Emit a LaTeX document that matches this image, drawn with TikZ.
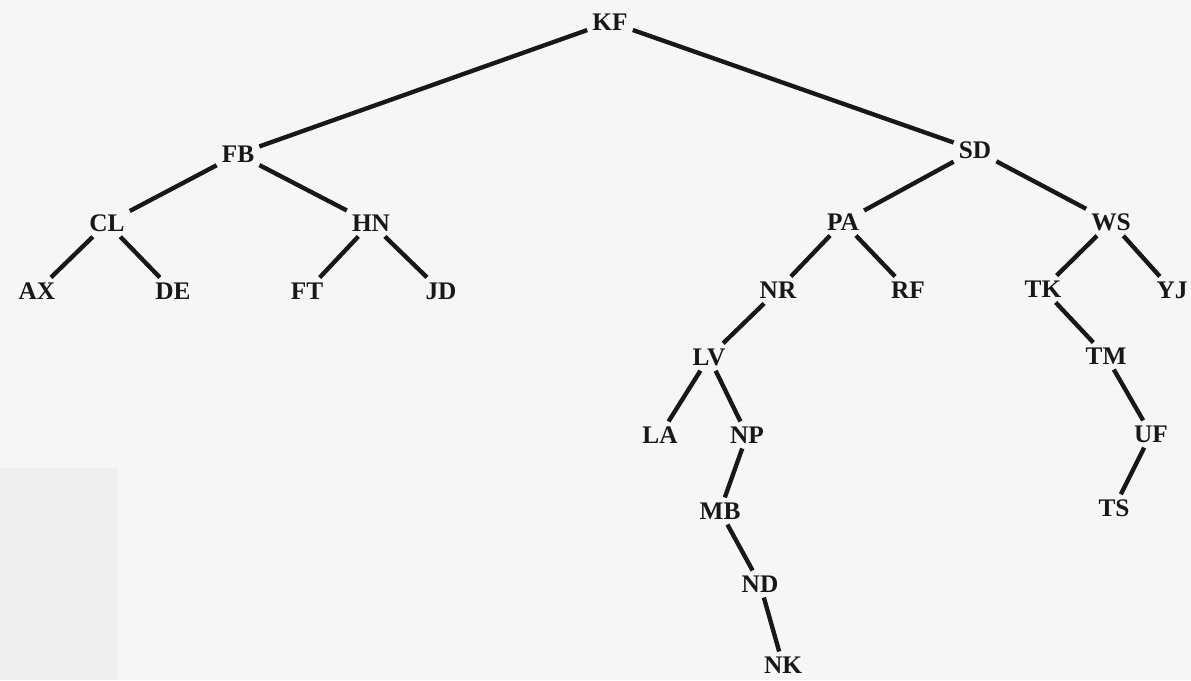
\documentclass[tikz,border=0pt]{standalone}
\usepackage{fontspec}
\setmainfont{Liberation Serif}
\definecolor{paper}{RGB}{246,246,246}
\definecolor{scan}{RGB}{239,239,239}
\definecolor{ink}{RGB}{24,24,24}

\begin{document}
\begin{tikzpicture}[x=0.025cm,y=-0.025cm,
  key/.style={font=\fontsize{18}{21}\selectfont\bfseries, inner sep=3.5pt, text=ink},
  link/.style={line width=3.1pt, draw=ink}]
\useasboundingbox (0,0) rectangle (1191,680);
\fill[paper] (0,0) rectangle (1191,680);
\fill[scan] (0,468) rectangle (118,680);
% root and left half
\node[key] (KF) at (610,22) {KF};
\node[key] (FB) at (238,154) {FB};
\node[key] (CL) at (107,223) {CL};
\node[key] (HN) at (371,223) {HN};
\node[key] (AX) at (37,291) {AX};
\node[key] (DE) at (173,291) {DE};
\node[key] (FT) at (307,291) {FT};
\node[key] (JD) at (441,291) {JD};
% right half
\node[key] (SD) at (975,150) {SD};
\node[key] (PA) at (843,222) {PA};
\node[key] (WS) at (1111,222) {WS};
\node[key] (NR) at (778,290) {NR};
\node[key] (RF) at (908,290) {RF};
\node[key] (TK) at (1043,289) {TK};
\node[key] (YJ) at (1172,290) {YJ};
\node[key] (LV) at (709,357) {LV};
\node[key] (TM) at (1106,356) {TM};
\node[key] (LA) at (660,435) {LA};
\node[key] (NP) at (747,435) {NP};
\node[key] (UF) at (1151,434) {UF};
\node[key] (MB) at (720,511) {MB};
\node[key] (TS) at (1114,508) {TS};
\node[key] (ND) at (760,584) {ND};
\node[key] (NK) at (783,665) {NK};
% branches
\foreach \a/\b in {KF/FB,KF/SD,FB/CL,FB/HN,CL/AX,CL/DE,HN/FT,HN/JD,
  SD/PA,SD/WS,PA/NR,PA/RF,NR/LV,LV/LA,LV/NP,NP/MB,MB/ND,ND/NK,
  WS/TK,WS/YJ,TK/TM,TM/UF,UF/TS}{
  \draw[link] (\a) -- (\b);
}
\end{tikzpicture}
\end{document}
